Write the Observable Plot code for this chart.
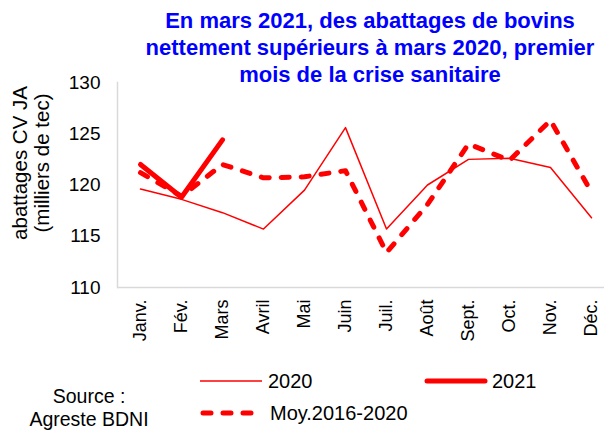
<!DOCTYPE html>
<html>
<head>
<meta charset="utf-8">
<script src="https://cdn.jsdelivr.net/npm/d3@7"></script>
<script src="https://cdn.jsdelivr.net/npm/@observablehq/plot@0.6"></script>
<style>
  html, body { margin: 0; padding: 0; background: #fff; }
  #wrap { position: relative; width: 604px; height: 430px; overflow: hidden; font-family: "Liberation Sans", Arial, sans-serif; }
  #chart { position: absolute; left: 0; top: 0; }
  #title { position: absolute; left: 120px; width: 500px; top: 7px; text-align: center; color: #0000ff; font-weight: bold; font-size: 22px; line-height: 27px; white-space: nowrap; }
  #ylab { position: absolute; left: 31px; top: 163px; width: 240px; transform: translate(-50%, -50%) rotate(-90deg); text-align: center; font-size: 20.5px; line-height: 22px; color: #000; white-space: nowrap; }
  .leg { position: absolute; display: flex; align-items: center; font-size: 20px; color: #000; white-space: nowrap; }
  .leg svg { display: block; }
  #source { position: absolute; left: 19px; width: 140px; top: 385px; text-align: center; font-size: 19.5px; line-height: 23px; color: #000; }
</style>
</head>
<body>
<div id="wrap">
  <div id="chart"></div>
  <div id="title">En mars 2021, des abattages de bovins<br>nettement supérieurs à mars 2020, premier<br>mois de la crise sanitaire</div>
  <div id="ylab">abattages CV JA<br>(milliers de tec)</div>
  <div id="legend"></div>
  <div id="source">Source :<br>Agreste BDNI</div>
</div>
<script>
const months = ["Janv.","Fév.","Mars","Avril","Mai","Juin","Juil.","Août","Sept.","Oct.","Nov.","Déc."];
const values2020 = [119.6, 118.6, 117.3, 115.7, 119.5, 125.6, 115.7, 120.0, 122.5, 122.6, 121.7, 116.8];
const values2021 = [122.0, 118.8, 124.4];
const valuesMoy = [121.2, 118.9, 122.0, 120.7, 120.8, 121.4, 113.4, 118.1, 124.0, 122.4, 126.3, 119.3];
const yTicks = [110, 115, 120, 125, 130];
const seriesNames = ["2020", "2021", "Moy.2016-2020"];

const d2020 = values2020.map((v, i) => ({month: months[i], value: v}));
const d2021 = values2021.map((v, i) => ({month: months[i], value: v}));
const dMoy = valuesMoy.map((v, i) => ({month: months[i], value: v}));

const red = "#ff0000";
const axisGray = "#d9d9d9";
const dash = "8,12";

const plot = Plot.plot({
  width: 604,
  height: 430,
  marginLeft: 117,
  marginRight: 0,
  marginTop: 82,
  marginBottom: 143,
  style: {fontFamily: "'Liberation Sans', Arial, sans-serif", fontSize: "18px", color: "#000", background: "transparent", overflow: "visible"},
  x: {type: "point", domain: months, range: [137.5, 592.5], padding: 0},
  y: {domain: [110, 130]},
  marks: [
    Plot.frame({anchor: "left", stroke: axisGray, strokeWidth: 1.5}),
    Plot.ruleY([110], {stroke: axisGray, strokeWidth: 1.5}),
    Plot.axisY({ticks: yTicks, tickSize: 0, tickPadding: 17, fontSize: 19, label: null}),
    Plot.axisX({tickRotate: -90, tickSize: 0, tickPadding: 12, fontSize: 18, label: null}),
    Plot.line(d2020, {x: "month", y: "value", stroke: red, strokeWidth: 1.5}),
    Plot.line(d2021, {x: "month", y: "value", stroke: red, strokeWidth: 5, strokeLinecap: "round", strokeLinejoin: "round"}),
    Plot.line(dMoy, {x: "month", y: "value", stroke: red, strokeWidth: 5, strokeDasharray: dash, strokeLinecap: "round", strokeLinejoin: "round"})
  ]
});
document.getElementById("chart").appendChild(plot);

// Legend
const legendItems = [
  {name: seriesNames[0], left: 200, top: 381, w: 62, gap: 6, sw: 1.5, dash: null, cap: "butt"},
  {name: seriesNames[1], left: 424, top: 381, w: 64, gap: 4, sw: 5, dash: null, cap: "round"},
  {name: seriesNames[2], left: 200, top: 413, w: 60, gap: 10, sw: 5, dash: dash, cap: "round"}
];
const legend = document.getElementById("legend");
for (const it of legendItems) {
  const div = document.createElement("div");
  div.className = "leg";
  div.style.left = it.left + "px";
  div.style.top = (it.top - 12) + "px";
  div.style.height = "24px";
  const ns = "http://www.w3.org/2000/svg";
  const s = document.createElementNS(ns, "svg");
  s.setAttribute("width", it.w);
  s.setAttribute("height", 10);
  s.style.marginRight = it.gap + "px";
  const l = document.createElementNS(ns, "line");
  const pad = it.cap === "round" ? 3 : 0;
  l.setAttribute("x1", pad); l.setAttribute("x2", it.w - pad);
  l.setAttribute("y1", 5); l.setAttribute("y2", 5);
  l.setAttribute("stroke", red);
  l.setAttribute("stroke-width", it.sw);
  l.setAttribute("stroke-linecap", it.cap);
  if (it.dash) l.setAttribute("stroke-dasharray", it.dash);
  s.appendChild(l);
  div.appendChild(s);
  const t = document.createElement("span");
  t.textContent = it.name;
  div.appendChild(t);
  legend.appendChild(div);
}
</script>
</body>
</html>
